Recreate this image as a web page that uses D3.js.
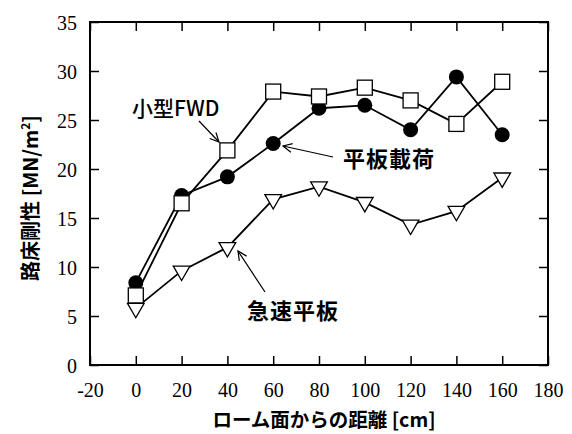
<!DOCTYPE html>
<html><head><meta charset="utf-8">
<script src="https://cdn.jsdelivr.net/npm/d3@7"></script>
<style>
html,body{margin:0;padding:0;background:#fff;}
svg{display:block;}
</style></head>
<body>
<svg id="chart" width="572" height="434"></svg>
<script>
const distances = [0, 20, 40, 60, 80, 100, 120, 140, 160];
const smallFWD = [7.1, 16.5, 21.9, 27.9, 27.4, 28.3, 27.0, 24.6, 28.9];
const plateLoad = [8.4, 17.3, 19.2, 22.6, 26.2, 26.5, 24.0, 29.4, 23.5];
const rapidPlate = [5.8, 9.6, 12.0, 16.9, 18.2, 16.6, 14.3, 15.7, 19.1];
const xTicks = [-20, 0, 20, 40, 60, 80, 100, 120, 140, 160, 180];
const yTicks = [0, 5, 10, 15, 20, 25, 30, 35];

const svg = d3.select("#chart");
const m = {l: 90, r: 548, t: 22, b: 365};
const x = d3.scaleLinear().domain([-20, 180]).range([m.l, m.r]);
const y = d3.scaleLinear().domain([0, 35]).range([m.b, m.t]);

const tickFont = "'Liberation Serif', 'Times New Roman', serif";
const fmt = d => String(d);

// axes with inward ticks
const gx = svg.append("g").attr("transform", `translate(0,${m.b})`)
  .call(d3.axisBottom(x).tickValues(xTicks).tickSize(-9).tickPadding(18).tickFormat(fmt));
const gy = svg.append("g").attr("transform", `translate(${m.l},0)`)
  .call(d3.axisLeft(y).tickValues(yTicks).tickSize(-9).tickPadding(13).tickFormat(fmt));
const gxt = svg.append("g").attr("transform", `translate(0,${m.t})`)
  .call(d3.axisTop(x).tickValues(xTicks).tickSize(-9).tickFormat(""));
const gyr = svg.append("g").attr("transform", `translate(${m.r},0)`)
  .call(d3.axisRight(y).tickValues(yTicks).tickSize(-9).tickFormat(""));
[gx, gy, gxt, gyr].forEach(g => {
  g.select(".domain").remove();
  g.selectAll(".tick line").attr("stroke", "#000").attr("stroke-width", 1.5);
  g.selectAll(".tick text").attr("fill", "#000").style("font-family", tickFont).style("font-size", "20px");
});
gy.selectAll(".tick text").attr("dy", "0.35em");

svg.append("rect").attr("x", m.l).attr("y", m.t).attr("width", m.r - m.l).attr("height", m.b - m.t)
  .attr("fill", "none").attr("stroke", "#000").attr("stroke-width", 2);

const line = d3.line().x((d, i) => x(distances[i])).y(d => y(d));

// rapid plate (triangles)
svg.append("path").datum(rapidPlate).attr("d", line).attr("fill", "none").attr("stroke", "#000").attr("stroke-width", 1.8);
const tri = d3.symbol().type(d3.symbolTriangle).size(120);
svg.selectAll(".tri").data(rapidPlate).enter().append("path")
  .attr("d", tri)
  .attr("transform", (d, i) => `translate(${x(distances[i])},${y(d)}) rotate(180)`)
  .attr("fill", "#fff").attr("stroke", "#000").attr("stroke-width", 1.3);

// plate load (filled circles)
svg.append("path").datum(plateLoad).attr("d", line).attr("fill", "none").attr("stroke", "#000").attr("stroke-width", 1.8);
svg.selectAll(".circ").data(plateLoad).enter().append("circle")
  .attr("cx", (d, i) => x(distances[i])).attr("cy", d => y(d)).attr("r", 7.5)
  .attr("fill", "#000");

// small FWD (open squares)
svg.append("path").datum(smallFWD).attr("d", line).attr("fill", "none").attr("stroke", "#000").attr("stroke-width", 1.8);
svg.selectAll(".sq").data(smallFWD).enter().append("rect")
  .attr("x", (d, i) => x(distances[i]) - 7.5).attr("y", d => y(d) - 7.5)
  .attr("width", 15).attr("height", 15)
  .attr("fill", "#fff").attr("stroke", "#000").attr("stroke-width", 1.3);

// annotations
const jp = "'Noto Sans CJK JP', sans-serif";
function arrow(x1, y1, x2, y2) {
  svg.append("line").attr("x1", x1).attr("y1", y1).attr("x2", x2).attr("y2", y2)
    .attr("stroke", "#000").attr("stroke-width", 1.2);
  const a = Math.atan2(y2 - y1, x2 - x1), L = 10, w = 0.45;
  const p1 = [x2 - L * Math.cos(a - w), y2 - L * Math.sin(a - w)];
  const p2 = [x2 - L * Math.cos(a + w), y2 - L * Math.sin(a + w)];
  svg.append("path").attr("d", `M${p1}L${x2},${y2}L${p2}`).attr("fill", "none")
    .attr("stroke", "#000").attr("stroke-width", 1.2);
}
svg.append("text").attr("x", 132).attr("y", 116).text("小型FWD")
  .style("font-family", jp).style("font-size", "21px").style("font-weight", "500");
arrow(199, 121, 219, 142);

svg.append("text").attr("x", 343).attr("y", 167).text("平板載荷")
  .style("font-family", jp).style("font-size", "22px").style("font-weight", "bold").style("letter-spacing", "1px");
arrow(333, 157, 283, 146);

svg.append("text").attr("x", 247).attr("y", 319).text("急速平板")
  .style("font-family", jp).style("font-size", "22px").style("font-weight", "bold").style("letter-spacing", "1px");
arrow(265, 292, 238, 251);

// axis titles
svg.append("text").attr("transform", "translate(38,198) rotate(-90)").attr("text-anchor", "middle")
  .style("font-family", jp).style("font-size", "20px").style("font-weight", "bold")
  .html("路床剛性 [MN/m<tspan dy='-8' font-size='12px'>2</tspan><tspan dy='8'>]</tspan>");
svg.append("text").attr("x", 324).attr("y", 427).attr("text-anchor", "middle")
  .style("font-family", jp).style("font-size", "19.5px").style("font-weight", "bold")
  .text("ローム面からの距離 [cm]");
</script>
</body></html>
